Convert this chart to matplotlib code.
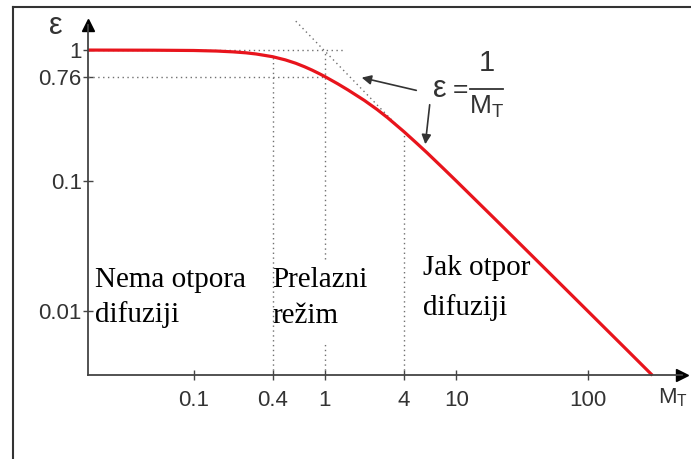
import numpy as np
import matplotlib.pyplot as plt
from matplotlib.lines import Line2D

plt.rcParams['font.family'] = ['Liberation Sans', 'DejaVu Sans']
plt.rcParams['mathtext.fontset'] = 'custom'
plt.rcParams['mathtext.rm'] = 'Liberation Sans'
plt.rcParams['mathtext.it'] = 'Liberation Sans'

# effectiveness factor
mt = [0.0157, 0.05, 0.1, 0.15, 0.2, 0.25, 0.3, 0.4, 0.5, 0.6, 0.7, 0.8, 0.9, 1.0, 1.25, 1.5,
      2.0, 2.5, 3.0, 4.0, 5.0, 6.0, 8.0, 10, 20, 50, 100, 200, 312]
eps = [1.0, 0.999, 0.997, 0.993, 0.987, 0.980, 0.971, 0.950, 0.924, 0.895, 0.863, 0.830,
       0.796, 0.762, 0.679, 0.603, 0.482, 0.395, 0.332, 0.250, 0.200, 0.167, 0.125, 0.100,
       0.050, 0.020, 0.010, 0.005, 0.0032]

# asymptote eps = 1/M_T (dotted)
asym_m = [0.6, 3.6]
asym_e = [1 / 0.6, 1 / 3.6]

xticks = [0.1, 0.4, 1, 4, 10, 100]
xlabels = ['0.1', '0.4', '1', '4', '10', '100']
yticks = [0.01, 0.1, 0.76, 1]
ylabels = ['0.01', '0.1', '0.76', '1']

W, H = 691, 459
fig = plt.figure(figsize=(W / 100, H / 100), dpi=100)


def px(x, y):
    return x / W, 1 - y / H


# the sketch's y axis is log-like but stretched around the knee (0.76 sits lower)
A, B = 1.47, 6.0


def fwd(y):
    t = np.log10(np.clip(np.asarray(y, float), 1e-12, None))
    tn = np.minimum(t, 0)
    return np.where(t < 0, tn + A * tn * np.exp(B * tn), t)


_gt = np.linspace(-8, 4, 40001)
_gu = fwd(10 ** _gt)


def inv(u):
    return 10 ** np.interp(u, _gu, _gt)


ax = fig.add_axes([88 / W, 1 - 375 / H, (682 - 88) / W, (375 - 25) / H])
ax.set_xscale('log')
ax.set_yscale('function', functions=(fwd, inv))
ax.set_xlim(0.0157, 524)
ax.set_ylim(0.00322, 1.557)

dot = dict(color='#707070', lw=1.0, ls=(0, (1, 2.5)))
ax.plot([0.0157, 1.42], [1, 1], **dot)
ax.plot([0.0157, 1], [0.76, 0.76], **dot)
ax.plot([0.4, 0.4], [0.00322, 0.95], **dot)
ax.plot([1, 1], [0.00322, 0.0056], **dot)
ax.plot([1, 1], [0.025, 1.0], **dot)
ax.plot([4, 4], [0.00322, 0.25], **dot)
ax.plot(asym_m, asym_e, clip_on=False, **dot)

ax.plot(mt, eps, color='#e8141c', lw=2.3, solid_capstyle='butt', clip_on=False)

for s in ['top', 'right']:
    ax.spines[s].set_visible(False)
for s in ['left', 'bottom']:
    ax.spines[s].set_color('#444444')
    ax.spines[s].set_linewidth(1.3)
ax.plot(1, 0, '>', color='black', ms=8, transform=ax.transAxes, clip_on=False)
ax.plot(0, 1, '^', color='black', ms=8, transform=ax.transAxes, clip_on=False)

ax.set_xticks(xticks)
ax.set_xticklabels(xlabels)
ax.set_yticks(yticks)
ax.set_yticklabels(ylabels)
ax.minorticks_off()
ax.tick_params(direction='inout', length=7, width=1, color='#444444',
               labelcolor='#333333', labelsize=16)
ax.tick_params(axis='x', pad=7)
ax.tick_params(axis='y', pad=1)

fig.text(*px(56, 26), 'ε', fontsize=22, ha='center', va='center', color='#333333')
fig.text(*px(673, 398), r'M$_\mathregular{T}$', fontsize=16, ha='center', va='center',
         color='#333333')

serif = dict(family='Liberation Serif', fontsize=21, color='black', va='baseline')
fig.text(*px(95, 287), 'Nema otpora', **serif)
fig.text(*px(95, 322), 'difuziji', **serif)
fig.text(*px(272, 287), 'Prelazni', **serif)
fig.text(*px(272, 323), 'režim', **serif)
fig.text(*px(423, 275), 'Jak otpor', **serif)
fig.text(*px(423, 315), 'difuziji', **serif)

# eps = 1 / M_T label built from pieces
fig.text(*px(440, 89), 'ε', fontsize=22, ha='center', va='center', color='#333333')
fig.text(*px(460, 90), '=', fontsize=19, ha='center', va='center', color='#333333')
fig.text(*px(487, 63), '1', fontsize=21, ha='center', va='center', color='#333333')
fig.add_artist(Line2D([470 / W, 503 / W], [1 - 89 / H, 1 - 89 / H], color='#333333', lw=1.3))
fig.text(*px(487, 107), r'M$_\mathregular{T}$', fontsize=19, ha='center', va='center',
         color='#333333')

arr = dict(arrowstyle='-|>', color='#333333', lw=1.2, mutation_scale=14)
ax.annotate('', xy=px(359, 77), xycoords='figure fraction', xytext=px(419, 91),
            textcoords='figure fraction', arrowprops=arr)
ax.annotate('', xy=px(425, 147), xycoords='figure fraction', xytext=px(430, 102),
            textcoords='figure fraction', arrowprops=arr)

# outer frame (left and top edges)
fig.add_artist(Line2D([13 / W, 13 / W], [0, 1 - 7 / H], color='#333333', lw=1.5))
fig.add_artist(Line2D([13 / W, 1], [1 - 7 / H, 1 - 7 / H], color='#333333', lw=1.5))

fig.savefig('out.png', dpi=100)
